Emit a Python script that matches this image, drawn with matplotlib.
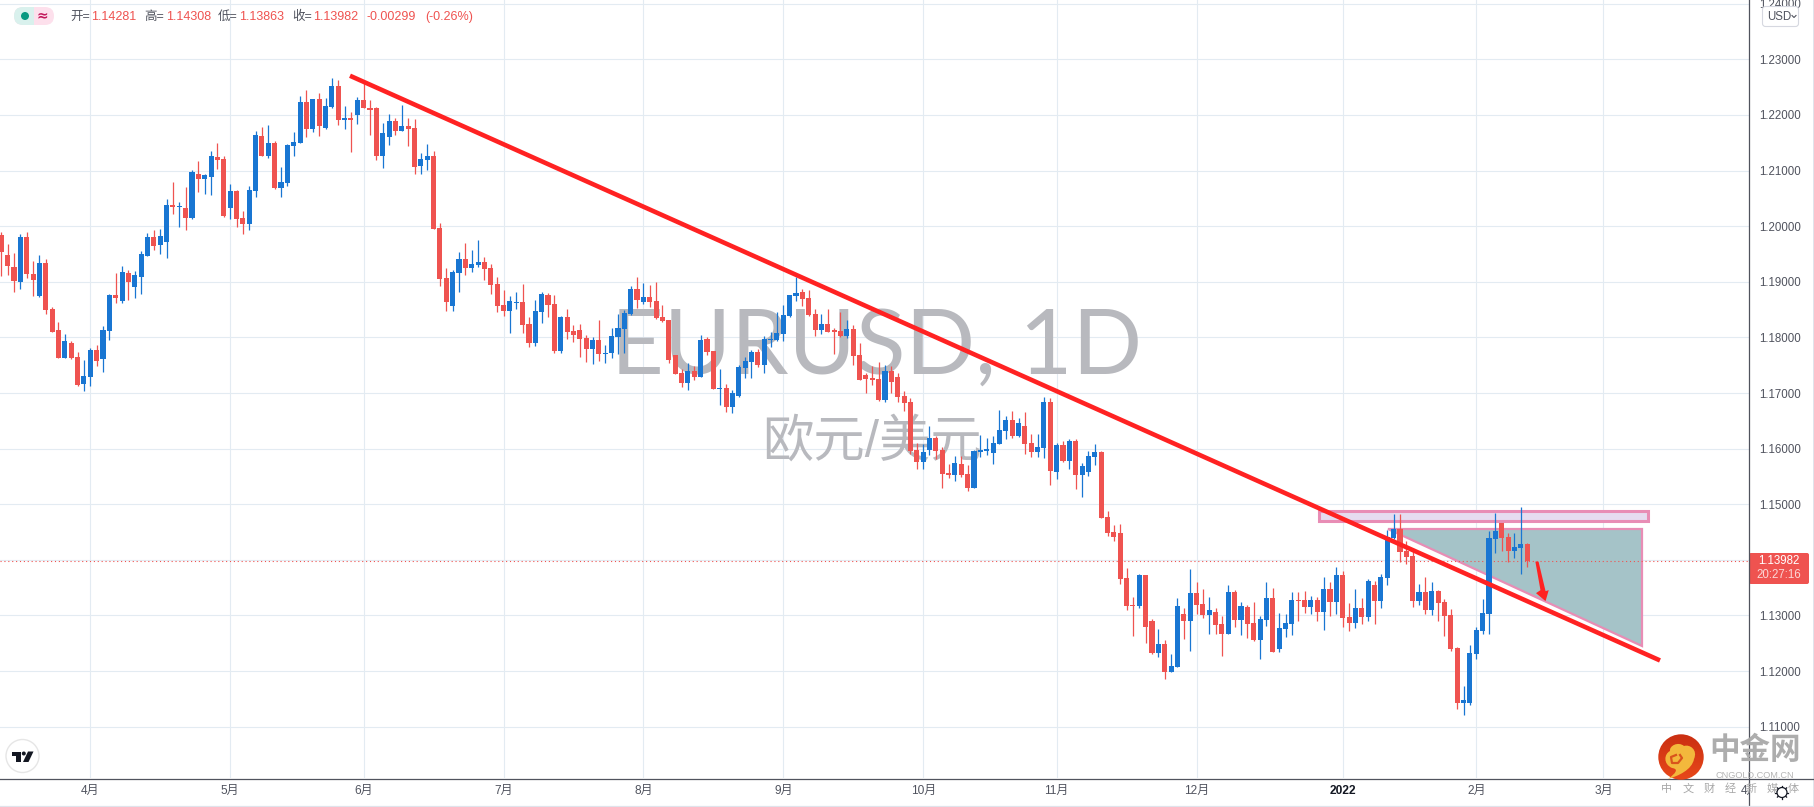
"""
EURUSD daily candles with a down trend line and a few drawings on top
"""

import numpy as np
import matplotlib
matplotlib.use("Agg")
import matplotlib.pyplot as plt
from matplotlib.colors import LinearSegmentedColormap
from matplotlib.patches import Rectangle, Polygon, Circle, FancyBboxPatch, PathPatch
from matplotlib.path import Path

plt.rcParams['font.family'] = ['Liberation Sans', 'Noto Sans CJK SC', 'DejaVu Sans']

# prices are kept in points (1 point = 0.00001), bar 0 is 1 April 2021
first_bar = -14

opens = [
    119846,119486,119270,119000,119810,119144,118748,119342,118514,118136,
    117632,117902,117650,117164,117290,117776,117614,118118,118766,118658,
    119162,118910,119090,119468,119810,119666,119720,120386,120350,120332,
    120152,120944,120854,120890,121250,121214,120332,120638,120152,120044,
    120638,121628,121268,121502,120692,120782,121448,121502,122240,121754,
    122294,121772,122150,122528,121916,121952,122006,122276,122132,122132,
    121268,121610,121898,121718,121808,121772,121088,121196,121268,119972,
    119072,118566,119160,119412,119250,119304,119358,119250,118962,118584,
    118476,118626,118638,118242,117900,118458,118764,118602,117756,118368,
    118116,118134,117990,117792,117954,117702,117720,118008,118152,118422,
    118872,118638,118728,118656,118368,118314,117684,117360,117180,117396,
    117288,117972,117756,117072,117090,116748,116946,117450,117558,117738,
    117504,117954,117954,118062,118386,118746,118818,118710,118422,118134,
    118242,118134,118116,118026,118154,117686,117326,117272,117254,116876,
    117398,117290,116952,116844,115980,115764,115980,116196,115980,115566,
    115530,115728,115548,115296,115944,115962,115926,116088,116322,116520,
    116232,116412,116106,115944,116016,116844,115584,116070,115782,116142,
    115530,115584,115854,115944,114774,114504,114486,113676,113190,113172,
    113730,112902,112326,112488,111984,112074,113028,112902,113406,113208,
    113010,113064,112848,112668,113424,112920,113152,112864,112558,112918,
    113314,112396,112756,112846,113278,113278,113152,113278,113062,113476,
    113242,113728,112972,112864,113134,112972,113548,113260,113674,114394,
    114556,114160,114070,113260,113422,113098,113440,113242,113008,112414,
    111424,111424,112306,112720,113026,114376,114664,114412,114160,114214,
    114281,
]
highs = [
    119900,119684,119522,119864,119900,119378,119486,119414,118550,118280,
    118064,117938,117740,117596,117812,117866,118208,118784,119162,119288,
    119216,119198,119558,119882,119936,119954,120494,120800,120440,120710,
    121016,121178,120944,121358,121502,121268,120764,120656,120278,120728,
    121718,121790,121826,121538,121070,121484,121700,122348,122456,122294,
    122402,122312,122672,122636,122168,122060,122330,122600,122276,122150,
    121862,122024,121952,122186,121952,121934,121322,121484,121358,120062,
    119252,119214,119538,119700,119574,119754,119448,119322,119088,118854,
    118746,118818,118962,118368,118674,118818,118800,118764,118386,118512,
    118224,118242,118044,118008,118314,117864,118170,118422,118494,118926,
    119088,118980,118944,118998,118584,118314,117684,117432,117540,117486,
    118044,118008,117756,117432,117162,117054,117504,117648,117774,117792,
    118026,118098,118458,118584,118764,119088,118872,118854,118512,118422,
    118512,118170,118458,118314,118226,117902,117362,117488,117560,117506,
    117488,117356,117042,116916,116106,116088,116412,116232,116034,115728,
    115872,115872,115710,115980,116250,116196,116232,116700,116592,116682,
    116556,116664,116268,116268,116934,116916,116106,116142,116178,116178,
    115746,115962,116088,115962,114882,114630,114648,113856,113334,113748,
    113730,112938,112758,112560,112308,113316,113136,113838,113604,113478,
    113334,113136,112992,113550,113460,113244,113188,113242,112990,113602,
    113494,113044,113026,113422,113422,113440,113350,113332,113692,113602,
    113872,113800,113224,113476,113314,113656,113620,113746,114538,114826,
    114826,114340,114208,113566,113692,113602,113458,113296,113116,112432,
    111730,112468,112792,113296,114520,114844,114664,114484,114484,114952,
    114308,
]
lows = [
    119108,119126,118820,118874,119072,118748,118730,118424,118100,117632,
    117632,117614,117128,117038,117128,117488,117380,117956,118622,118622,
    118676,118712,118784,119468,119576,119504,119432,120224,119990,119936,
    120134,120620,120584,120566,121034,120170,120134,119990,119864,119936,
    120530,121268,121232,120674,120530,120728,121268,121502,121610,121700,
    121628,121754,122132,121826,121754,121340,121844,122132,121646,121196,
    121052,121466,121646,121718,121448,120944,120944,121016,119954,118928,
    118478,118476,118818,119124,119178,119268,119034,118782,118458,118386,
    118080,118512,118080,117828,117846,118260,118368,117720,117720,117972,
    117918,117648,117558,117522,117576,117540,117630,117702,117720,118404,
    118530,118602,118548,118332,118278,117540,117342,117108,117054,117234,
    117288,117684,117072,116784,116658,116640,116928,117270,117270,117468,
    117360,117828,117936,117936,118368,118656,118566,118386,118026,118062,
    118098,117702,118008,117990,117506,117236,117002,117146,116858,116840,
    117002,116840,116682,115908,115638,115638,115890,115818,115296,115476,
    115422,115494,115242,115296,115854,115890,115728,116088,116178,116196,
    116214,115908,115854,115854,115836,115350,115458,115764,115638,115278,
    115134,115512,115710,114756,114432,114342,113568,113100,112632,113136,
    112506,112308,112254,111858,111984,112074,112578,112362,113028,112956,
    112668,112668,112272,112668,112794,112650,112594,112540,112216,112810,
    112342,112342,112612,112648,112900,113044,113026,112900,112738,112990,
    113026,112792,112720,112774,112846,112900,112846,113134,113548,114376,
    113962,113926,113152,113188,113026,113008,112900,112630,112360,111316,
    111208,111388,112216,112666,112666,114124,114160,113962,114034,113746,
    113863,
]
closes = [
    119528,119288,119018,119810,119144,119036,119342,118496,118100,117632,
    117938,117632,117146,117308,117776,117578,118136,118766,118712,119180,
    119000,119126,119504,119810,119648,119828,120386,120350,120368,120152,
    120980,120854,120926,121268,121196,120188,120638,120134,120044,120656,
    121646,121268,121502,120692,120800,121466,121520,122240,121754,122294,
    121808,122168,122528,121916,121952,121916,122276,122132,122096,121268,
    121682,121898,121718,121808,121754,121070,121214,121268,119954,119054,
    118640,119178,119412,119250,119322,119358,119232,118944,118566,118476,
    118656,118638,118224,117900,118476,118782,118584,117756,118368,118098,
    118044,117972,117792,117954,117702,117720,118026,118170,118440,118872,
    118674,118728,118638,118350,118296,117594,117342,117180,117396,117288,
    117954,117738,117072,117090,116748,117000,117468,117576,117738,117504,
    117972,117972,118080,118404,118764,118800,118692,118404,118134,118242,
    118098,118098,118026,118152,117668,117236,117254,117236,116876,117398,
    117200,116930,116826,115962,115764,115944,116196,115962,115548,115530,
    115746,115530,115296,115962,115980,115998,116106,116340,116520,116232,
    116466,116088,115944,116034,116844,115602,116070,115782,116142,115530,
    115692,115872,115944,114756,114486,114414,113658,113172,113172,113730,
    112794,112326,112488,111984,112092,113172,112902,113406,113190,113010,
    113100,112830,112668,113424,112920,113172,112846,112558,112936,113314,
    112342,112774,112864,113278,113260,113152,113278,113062,113476,113242,
    113728,112954,112864,113134,112972,113620,113260,113692,114412,114556,
    114142,114052,113260,113422,113098,113440,113224,112990,112396,111424,
    111478,112324,112738,113044,114394,114520,114394,114160,114232,114286,
    113982,
]

# month ticks, as bar numbers
month_bars = [0, 22, 43, 65, 87, 109, 131, 152, 174, 197, 218, 238, 261]
month_labels = ['4月', '5月', '6月', '7月', '8月', '9月', '10月', '11月', '12月',
                '2022', '2月', '3月', '4月']
price_ticks = [1.11, 1.12, 1.13, 1.14, 1.15, 1.16, 1.17, 1.18, 1.19, 1.20, 1.21, 1.22, 1.23, 1.24]
last_price = 1.13982

# drawings, bar number and price
trend_bars = [40.85, 246.9]
trend_prices = [1.22705, 1.12191]
box_bars = [193.2, 245.0]
box_prices = [1.14691, 1.14881]
wedge_bars = [204.1, 244.1, 244.1]
wedge_prices = [1.14558, 1.14558, 1.12457]
arrow_bars = [227.3, 227.8, 228.9, 229.4, 228.9, 227.4, 228.1]
arrow_prices = [1.13968, 1.13968, 1.13437, 1.13455, 1.13257, 1.13401, 1.13455]

UP = '#1976d2'
DOWN = '#ef5350'
GRID = '#e3ebf2'
AXIS = '#50535e'
PINK = '#e88db5'
MARK = '#b8b9be'

o = np.array(opens) / 1e5
h = np.array(highs) / 1e5
l = np.array(lows) / 1e5
c = np.array(closes) / 1e5
bars = np.arange(first_bar, first_bar + len(o))
colors = [UP if cc >= oo else DOWN for oo, cc in zip(o, c)]

W, H = 1815, 807
fig = plt.figure(figsize=(W / 100, H / 100), dpi=100, facecolor='white')

# main pane
ax = fig.add_axes([0, 29 / H, 1749 / W, 778 / H])
ax.set_xlim(-14.2, 260.9)
ax.set_ylim(1.10077, 1.24067)
ax.set_axisbelow(True)
ax.grid(True, color=GRID, lw=0.8)
ax.set_xticks(month_bars[:-1])
ax.set_yticks(price_ticks)
ax.set_yticklabels(['%.5f' % p for p in price_ticks], fontsize=8.3, color=AXIS)
ax.yaxis.tick_right()
ax.tick_params(axis='y', length=0, pad=7.4)
ax.tick_params(axis='x', length=0, labelbottom=False)
for s in ax.spines.values():
    s.set_visible(False)

# watermark
ax.text(0.501, 0.553, 'EURUSD, 1D', transform=ax.transAxes, ha='center', va='center',
        fontsize=66, color=MARK, zorder=1, family=['Lato', 'DejaVu Sans'])
ax.text(0.4985, 0.431, '欧元/美元', transform=ax.transAxes, ha='center', va='center',
        fontsize=37, color=MARK, zorder=1)

# drawings under the candles
ax.add_patch(Polygon(np.column_stack([wedge_bars, wedge_prices]), closed=True,
                     facecolor='#a5c3c8', edgecolor=PINK, lw=1.6, zorder=2))
ax.add_patch(Rectangle((box_bars[0], box_prices[0]), box_bars[1] - box_bars[0],
                       box_prices[1] - box_prices[0], facecolor='#e6dcf0',
                       edgecolor=PINK, lw=2.2, zorder=2.2))
ax.axhline(last_price, color=DOWN, lw=0.8, ls=(0, (1, 2.5)), zorder=2.5)

# candles
ax.vlines(bars, l, h, colors=colors, lw=0.9, zorder=3)
ax.bar(bars, np.abs(c - o), bottom=np.minimum(o, c), width=0.8, color=colors, lw=0, zorder=3.1)

ax.plot(trend_bars, trend_prices, color='#ff2222', lw=3.3, zorder=4, solid_capstyle='butt')
ax.add_patch(Polygon(np.column_stack([arrow_bars, arrow_prices]), closed=True,
                     facecolor='#ff2222', edgecolor='none', zorder=4.1))

# time scale, its own axes so that the last label gets cut at the price scale
ax_t = fig.add_axes([0, 0, 1749 / W, 29 / H])
ax_t.set_xlim(ax.get_xlim())
ax_t.set_ylim(0, 1)
ax_t.axis('off')
for b, lab in zip(month_bars, month_labels):
    ax_t.text(b, 0.55, lab, ha='center', va='center', fontsize=8.6, color='#131722' if lab == '2022' else AXIS,
              fontweight='bold' if lab == '2022' else 'normal', clip_on=True)

# everything else in pixels
ui = fig.add_axes([0, 0, 1, 1], facecolor='none')
ui.set_xlim(0, W)
ui.set_ylim(H, 0)
ui.axis('off')

ui.plot([1749.5, 1749.5], [0, 805], color=AXIS, lw=0.9)
ui.plot([0, 1813], [778.5, 778.5], color=AXIS, lw=0.9)
ui.plot([0, W], [806, 806], color='#e0e3eb', lw=0.9)
ui.add_patch(Rectangle((1813, 0), 2, H, facecolor='#e0e3eb', edgecolor='none'))

# legend chip
pill = FancyBboxPatch((14, 7), 40, 18, boxstyle='round,pad=0,rounding_size=9',
                      facecolor='#fde0ec', edgecolor='none')
ui.add_patch(pill)
left = Rectangle((14, 7), 20, 18, facecolor='#d9f1ed', edgecolor='none')
ui.add_patch(left)
left.set_clip_path(pill)
ui.add_patch(Circle((25, 16), 4, facecolor='#089981', edgecolor='none'))
ui.text(42.5, 15.5, '≈', fontsize=10, color='#c2185b', fontweight='bold', ha='center', va='center',
        family=['DejaVu Sans'])

# OHLC line
labels = [(70, '开=', AXIS), (91.5, '1.14281', DOWN), (144, '高=', AXIS), (166, '1.14308', DOWN),
          (218, '低=', AXIS), (239.5, '1.13863', DOWN), (292, '收=', AXIS), (313, '1.13982', DOWN),
          (366.5, '-0.00299', DOWN), (425, '(-0.26%)', DOWN)]
for x, s, col in labels:
    ui.text(x, 17, s, fontsize=9, color=col, ha='left', va='center')

# USD button
ui.add_patch(FancyBboxPatch((1762.5, 6.5), 36, 20, boxstyle='round,pad=0,rounding_size=3',
                            facecolor='white', edgecolor='#d6d8e0', lw=0.8))
ui.text(1767, 17, 'USD', fontsize=8.3, color=AXIS, ha='left', va='center')
ui.plot([1792, 1794, 1796], [15.5, 17.5, 15.5], color=AXIS, lw=0.8)

# last price tag
ui.add_patch(FancyBboxPatch((1749, 553), 60, 31, boxstyle='round,pad=0,rounding_size=2',
                            facecolor=DOWN, edgecolor='none'))
ui.text(1779, 561.5, '1.13982', fontsize=8.3, color='white', ha='center', va='center')
ui.text(1779, 575.5, '20:27:16', fontsize=8.3, color='#fbd7d6', ha='center', va='center')

# TradingView badge
ui.add_patch(Circle((22.5, 756), 16.5, facecolor='white', edgecolor='#e6e6e6', lw=1))
ui.add_patch(Polygon([(12, 751.5), (21, 751.5), (21, 762), (16.5, 762), (16.5, 755.5), (12, 755.5)],
                     closed=True, facecolor='#131722', edgecolor='none'))
ui.add_patch(Circle((23.8, 753.5), 2, facecolor='#131722', edgecolor='none'))
ui.add_patch(Polygon([(28, 751.5), (33.5, 751.5), (28.5, 762), (23, 762)], closed=True,
                     facecolor='#131722', edgecolor='none'))

# cngold logo
grad = np.linspace(0, 1, 64)[:, None] * np.ones((64, 64))
disc = Circle((1681, 757), 22.7, transform=ui.transData, facecolor='none', edgecolor='none')
ui.add_patch(disc)
img = ui.imshow(grad, extent=(1658, 1704, 780, 734), aspect='auto', zorder=5,
                cmap=LinearSegmentedColormap.from_list('lg', ['#ca2f12', '#e8481a']))
img.set_clip_path(disc)
ui.set_xlim(0, W)
ui.set_ylim(H, 0)
swirl = Path([(1668, 779), (1678, 776), (1692, 770), (1694, 759), (1698, 750), (1690, 744), (1684, 746),
              (1678, 741), (1669, 746), (1670, 751), (1664, 754), (1663, 764), (1672, 768),
              (1679, 769), (1676, 773), (1668, 779)],
             [Path.MOVETO, Path.CURVE4, Path.CURVE4, Path.CURVE4, Path.CURVE4, Path.CURVE4, Path.CURVE4,
              Path.CURVE4, Path.CURVE4, Path.CURVE4, Path.CURVE4, Path.CURVE4, Path.CURVE4,
              Path.CURVE4, Path.CURVE4, Path.CURVE4])
ui.add_patch(PathPatch(swirl, facecolor='#f3b83c', edgecolor='none', zorder=6))
ui.plot([1676, 1671, 1672, 1678, 1682, 1680], [755, 757, 763, 763, 758, 755], color='#d9541c', lw=1.6, zorder=7)

ui.text(1755, 751.5, '中金网', fontsize=22, color='#a9a9a9', fontweight='bold', ha='center', va='center',
        alpha=0.95, zorder=8)
ui.text(1755, 775, 'CNGOLD.COM.CN', fontsize=6.6, color='#b4b4b4', ha='center', va='center', zorder=8)
for x, ch in zip(np.linspace(1667, 1793, 7), '中文财经新媒体'):
    ui.text(x, 789, ch, fontsize=8, color='#a8a8a8', ha='center', va='center', zorder=8)

# settings gear
for a in np.arange(0, 2 * np.pi, np.pi / 4):
    ui.plot([1782 + 5 * np.cos(a), 1782 + 6.5 * np.cos(a)], [792.5 + 5 * np.sin(a), 792.5 + 6.5 * np.sin(a)],
            color='#131722', lw=0.9, zorder=9)
ui.add_patch(Circle((1782, 792.5), 5, facecolor='white', edgecolor='#131722', lw=0.9, zorder=9))

fig.savefig('out.png', dpi=100)
